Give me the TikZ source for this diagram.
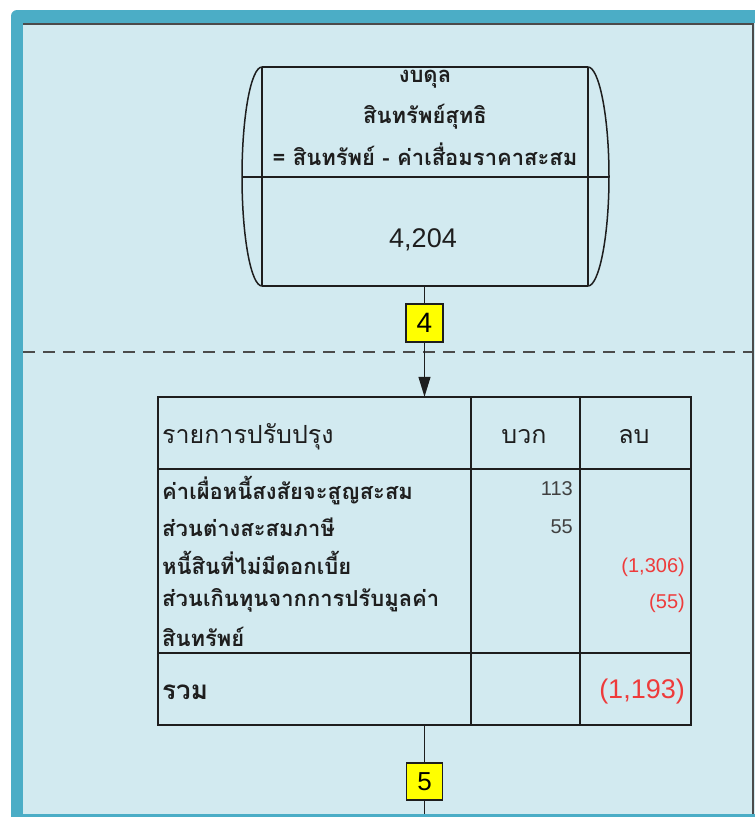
\documentclass[tikz,border=0pt]{standalone}
\usepackage{fontspec}
\setmainfont{Liberation Sans}
\newfontfamily\thai[Script=Thai]{Loma}
\usetikzlibrary{arrows.meta}
\definecolor{bgc}{HTML}{D2EAF0}
\definecolor{framec}{HTML}{4BADC6}
\definecolor{ink}{HTML}{1E1E1E}
\definecolor{redc}{HTML}{EE3B3B}
\definecolor{yel}{HTML}{FFFF00}
\tikzset{
  rule/.style={draw=ink,line width=1.5pt},
  numbox/.style={draw=ink,line width=1.2pt,fill=yel,minimum width=37pt,minimum height=38pt,inner sep=0pt,font=\fontsize{28}{28}\selectfont},
  conn/.style={draw=ink,line width=1.2pt},
  thb/.style={font=\thai\bfseries\fontsize{22}{22}\selectfont,text=ink,inner sep=0pt},
  rowtxt/.style={font=\thai\bfseries\fontsize{22}{22}\selectfont,text=ink,inner sep=0pt,anchor=west},
  hdr/.style={font=\thai\fontsize{25}{25}\selectfont,text=ink,inner sep=0pt},
  smallnum/.style={font=\fontsize{20}{20}\selectfont,inner sep=0pt,anchor=east},
}
\begin{document}
\begin{tikzpicture}[x=1pt,y=-1pt]
\useasboundingbox (0,0) rectangle (755,817);
\fill[white] (0,0) rectangle (755,817);
\fill[framec,rounded corners=6pt] (11,10) rectangle (790,840);
\fill[bgc] (23,23) rectangle (755,814);
\draw[ink!80,line width=1.6pt] (23,23.8) -- (753,23.8) -- (753,814);
% cylinder
\node[minimum width=326pt,minimum height=219pt,inner sep=0pt] (cyl) at (424.5,176.5) {};
\draw[rule] (262,67) -- (588,67) (262,286) -- (588,286)
  (262,67) -- (262,286) (588,67) -- (588,286)
  (242,177) -- (609,177);
\draw[rule] (262,67) .. controls (251,67) and (242,116) .. (242,176.5)
  .. controls (242,237) and (251,286) .. (262,286);
\draw[rule] (588,67) .. controls (599,67) and (609,116) .. (609,176.5)
  .. controls (609,237) and (599,286) .. (588,286);
\begin{scope}
\clip (262,68) rectangle (588,176);
\node[thb] (t1) at (425,79) {งบดุล};
\end{scope}
\node[thb] (t2) at (425,117) {สินทรัพย์สุทธิ};
\node[thb] (t3) at (425,154) {= สินทรัพย์ - ค่าเสื่อมราคาสะสม};
\node[font=\fontsize{27}{27}\selectfont,text=ink,inner sep=0pt] (v1) at (423,240) {4,204};
% separator
\draw[ink!80,line width=1.5pt,dash pattern=on 12pt off 8pt] (23,352) -- (753,352);
% box 4
\node[numbox] (b4) at (424.5,323) {4};
% table
\node[minimum width=533pt,minimum height=328pt,inner sep=0pt] (tbl) at (424.5,561) {};
\draw[rule] (158,397) rectangle (691,725);
\draw[rule] (158,469) -- (691,469) (158,653) -- (691,653)
  (471,397) -- (471,725) (580,397) -- (580,725);
\node[hdr,anchor=west] (h1) at (162,437) {รายการปรับปรุง};
\node[hdr] (h2) at (524,437) {บวก};
\node[hdr] (h3) at (634,437) {ลบ};
\node[rowtxt] (r1) at (162,491) {ค่าเผื่อหนี้สงสัยจะสูญสะสม};
\node[rowtxt] (r2) at (162,527) {ส่วนต่างสะสมภาษี};
\node[rowtxt] (r3) at (162,563) {หนี้สินที่ไม่มีดอกเบี้ย};
\node[rowtxt] (r4) at (162,600) {ส่วนเกินทุนจากการปรับมูลค่า};
\node[rowtxt] (r5) at (162,637) {สินทรัพย์};
\node[rowtxt,font=\thai\bfseries\fontsize{26}{26}\selectfont] (r6) at (162,692) {รวม};
\node[smallnum,text=ink!85] (n1) at (573,489) {113};
\node[smallnum,text=ink!85] (n2) at (573,527) {55};
\node[smallnum,text=redc] (n3) at (685,567) {(1,306)};
\node[smallnum,text=redc] (n4) at (685,603) {(55)};
\node[font=\fontsize{27}{27}\selectfont,text=redc,inner sep=0pt,anchor=east] (n5) at (685,692) {(1,193)};
% box 5
\node[numbox,minimum width=36pt,minimum height=37pt,font=\fontsize{26}{26}\selectfont] (b5) at (424.5,781.5) {5};
\coordinate (endc) at (424.5,814);
% connectors
\draw[conn] (cyl.south) -- (b4.north);
\draw[conn,-{Triangle[length=20pt,width=12pt]}] (b4.south) -- (tbl.north);
\draw[conn] (tbl.south) -- (b5.north);
\draw[conn] (b5.south) -- (endc);
\end{tikzpicture}
\end{document}
